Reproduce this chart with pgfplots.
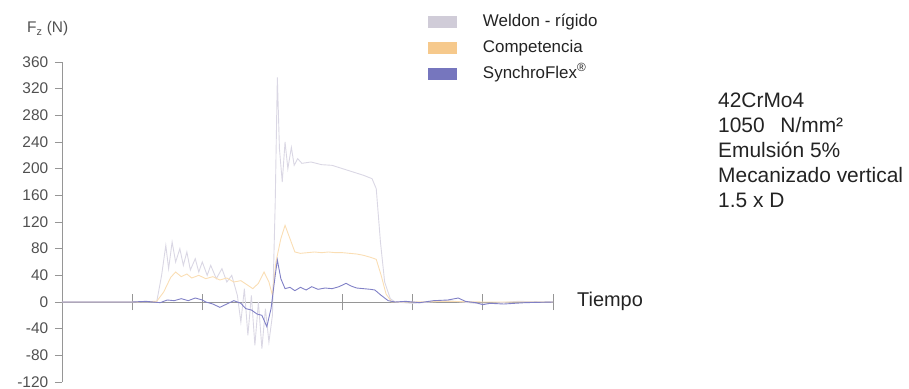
\documentclass[border=0pt]{standalone}
\usepackage{fontspec}
\setmainfont{Liberation Sans}
\usepackage{pgfplots}
\pgfplotsset{compat=1.18}

\definecolor{welL}{RGB}{218,215,228}
\definecolor{welS}{RGB}{208,204,216}
\definecolor{comL}{RGB}{250,222,180}
\definecolor{comS}{RGB}{246,201,140}
\definecolor{synL}{RGB}{128,128,198}
\definecolor{synS}{RGB}{118,118,190}
\definecolor{axg}{RGB}{150,150,150}
\definecolor{txt}{RGB}{35,35,35}
\definecolor{tkl}{RGB}{80,80,80}

\begin{document}
\begin{tikzpicture}
\path[use as bounding box] (-62bp,-7bp) rectangle (847bp,382bp);
\begin{axis}[
  name=ax, at={(0,0)}, anchor=south west,
  scale only axis, width=491bp, height=320bp,
  xmin=0, xmax=7, ymin=-120, ymax=360,
  axis x line=middle, axis y line=left,
  axis line style={-, draw=axg, line width=0.8bp},
  xtick={1,2,3,4,5,6,7}, xticklabels={},
  ytick={-120,-80,...,360},
  xtick align=center, ytick align=outside,
  xtick style={draw=axg, line width=0.8bp, /pgfplots/major tick length=16bp},
  ytick style={draw=axg, line width=0.8bp, /pgfplots/major tick length=7bp},
  yticklabel style={font=\fontsize{15.5}{16}\selectfont, text=tkl, xshift=-6bp},
  /pgf/number format/assume math mode=true,
  clip=false,
  legend style={at={(axis description cs:0.745,1.152)}, anchor=north west,
    draw=none, fill=none, inner sep=0pt, row sep=9.5bp,
    font=\fontsize{17}{18}\selectfont, text=txt,
    nodes={inner sep=0pt, text height=12.5bp, text depth=4bp},
    /tikz/every odd column/.append style={column sep=26bp}},
  legend cell align=left,
  legend image code/.code={\fill[#1] (0bp,-6bp) rectangle (29bp,6bp);},
]
% Weldon - rigido
\addplot[welL, line width=0.9bp, forget plot] coordinates {
(0,0) (1.0,0) (1.35,0) (1.42,40) (1.48,85) (1.52,50) (1.57,90) (1.62,60) (1.68,80)
(1.73,55) (1.78,75) (1.83,48) (1.9,65) (1.95,45) (2.0,60) (2.07,40) (2.12,55)
(2.2,35) (2.28,50) (2.35,30) (2.42,40) (2.5,10) (2.55,-30) (2.6,20) (2.65,-50)
(2.7,10) (2.75,-65) (2.8,0) (2.85,-70) (2.9,-10) (2.95,-60) (3.0,-20) (3.04,150)
(3.07,337) (3.1,230) (3.14,180) (3.18,240) (3.22,200) (3.27,232) (3.31,205)
(3.36,215) (3.42,208) (3.55,210) (3.7,206) (3.85,205) (4.0,200) (4.15,195)
(4.3,190) (4.42,185) (4.48,170) (4.54,90) (4.6,30) (4.68,5) (4.75,0) (5,-2)
(5.5,2) (6,-3) (6.5,1) (7,0)};
% Competencia
\addplot[comL, line width=0.9bp, forget plot] coordinates {
(0,0) (1.0,0) (1.35,1) (1.45,15) (1.55,37) (1.62,45) (1.7,38) (1.78,42) (1.85,36)
(1.95,40) (2.05,35) (2.15,38) (2.25,33) (2.35,36) (2.45,30) (2.55,32) (2.65,25)
(2.72,20) (2.8,28) (2.88,45) (2.95,30) (3.0,10) (3.05,60) (3.12,95) (3.18,115)
(3.25,95) (3.32,75) (3.4,73) (3.5,74) (3.6,75) (3.7,74) (3.8,75) (3.9,74) (4.0,74)
(4.1,73) (4.2,72) (4.3,70) (4.4,67) (4.48,64) (4.55,40) (4.62,12) (4.7,0) (5,0)
(5.5,1) (6,0) (7,0)};
% SynchroFlex
\addplot[synL, line width=0.9bp, forget plot] coordinates {
(0,0) (1.0,0) (1.2,1) (1.4,-1) (1.5,3) (1.6,2) (1.7,5) (1.8,2) (1.9,6) (2.0,3)
(2.05,0) (2.15,-3) (2.25,-8) (2.35,-3) (2.45,2) (2.55,-2) (2.62,-10) (2.70,-12)
(2.78,-18) (2.85,-20) (2.92,-37) (2.98,-10) (3.04,40) (3.07,63) (3.12,35)
(3.18,20) (3.25,22) (3.32,17) (3.40,22) (3.48,18) (3.56,23) (3.65,19) (3.75,21)
(3.85,20) (3.95,23) (4.05,28) (4.12,24) (4.2,21) (4.3,20) (4.4,19) (4.46,18)
(4.55,10) (4.65,2) (4.75,0) (4.9,1) (5.1,-1) (5.3,2) (5.5,3) (5.65,6) (5.75,1)
(5.9,-1) (6.0,-4) (6.1,-2) (6.3,-3) (6.6,-1) (7,0)};
\addlegendimage{fill=welS, draw=none}
\addlegendentry{Weldon - rígido}
\addlegendimage{fill=comS, draw=none}
\addlegendentry{Competencia}
\addlegendimage{fill=synS, draw=none}
\addlegendentry{SynchroFlex\textsuperscript{®}}
\end{axis}
\begin{scope}[shift={(-62bp,382bp)}, x=1bp, y=-1bp]
\node[anchor=base west, inner sep=0pt, text=tkl, font=\fontsize{15.5}{15.5}\selectfont] at (27,33) {F\textsubscript{z} (N)};
\node[anchor=base west, inner sep=0pt, text=txt, font=\fontsize{20}{20}\selectfont] at (577,307) {Tiempo};
\begin{scope}[every node/.style={anchor=base west, inner sep=0pt, text=txt, font=\fontsize{21}{21}\selectfont}]
\node at (718,108) {42CrMo4};
\node at (718,133) {1050\hspace{0.75em}N/mm²};
\node at (718,158) {Emulsión 5\%};
\node at (718,183) {Mecanizado vertical};
\node at (718,208) {1.5 x D};
\end{scope}
\end{scope}
\end{tikzpicture}
\end{document}
